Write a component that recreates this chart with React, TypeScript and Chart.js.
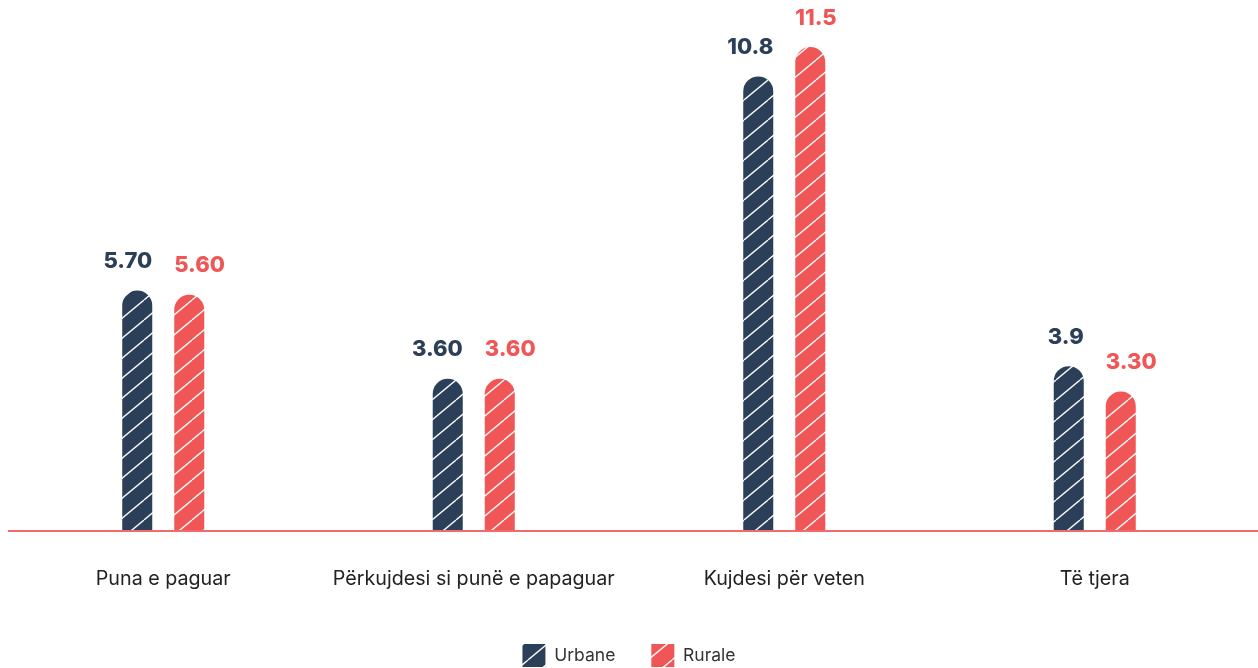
import React, { useEffect, useRef } from "react";
import { Chart, registerables } from "chart.js";

Chart.register(...registerables);

const categories = ["Puna e paguar", "Përkujdesi si punë e papaguar", "Kujdesi për veten", "Të tjera"];
const seriesNames = ["Urbane", "Rurale"];
const urbanValues = [5.7, 3.6, 10.8, 3.9];
const ruralValues = [5.6, 3.6, 11.5, 3.3];
const urbanLabels = ["5.70", "3.60", "10.8", "3.9"];
const ruralLabels = ["5.60", "3.60", "11.5", "3.30"];

const NAVY = "#2c3f59";
const RED = "#f05656";
const FONT = "Inter, 'Noto Sans', sans-serif";

function makePattern(color: string): CanvasPattern | string {
  const c = document.createElement("canvas");
  const w = 24;
  const h = 20;
  c.width = w;
  c.height = h;
  const ctx = c.getContext("2d");
  if (!ctx) return color;
  ctx.fillStyle = color;
  ctx.fillRect(0, 0, w, h);
  ctx.strokeStyle = "rgba(255,255,255,0.95)";
  ctx.lineWidth = 1.4;
  ctx.beginPath();
  for (const dx of [-w, 0, w]) {
    ctx.moveTo(dx, h);
    ctx.lineTo(dx + w, 0);
  }
  ctx.stroke();
  return ctx.createPattern(c, "repeat") || color;
}

export default function App() {
  const ref = useRef<HTMLCanvasElement | null>(null);

  useEffect(() => {
    if (!ref.current) return;
    const labelSets = [urbanLabels, ruralLabels];
    const colors = [NAVY, RED];
    const valueLabels = {
      id: "valueLabels",
      beforeDatasetsDraw(chart: any) {
        const ctx = chart.ctx;
        const y = chart.chartArea.bottom + 1;
        ctx.save();
        ctx.strokeStyle = "#f26a6a";
        ctx.lineWidth = 2;
        ctx.beginPath();
        ctx.moveTo(8, y);
        ctx.lineTo(chart.width, y);
        ctx.stroke();
        ctx.restore();
      },
      afterDatasetsDraw(chart: any) {
        const ctx = chart.ctx;
        ctx.save();
        ctx.font = `800 22px ${FONT}`;
        ctx.textBaseline = "middle";
        chart.data.datasets.forEach((ds: any, di: number) => {
          const meta = chart.getDatasetMeta(di);
          meta.data.forEach((bar: any, i: number) => {
            const half = bar.width / 2;
            ctx.fillStyle = colors[di];
            if (di === 0) {
              ctx.textAlign = "right";
              ctx.fillText(labelSets[di][i], bar.x + half, bar.y - 29);
            } else {
              ctx.textAlign = "left";
              ctx.fillText(labelSets[di][i], bar.x - half, bar.y - 29);
            }
          });
        });
        ctx.restore();
      },
    };

    const chart = new Chart(ref.current, {
      type: "bar",
      data: {
        labels: categories,
        datasets: [
          {
            label: seriesNames[0],
            data: urbanValues,
            backgroundColor: makePattern(NAVY) as any,
            borderWidth: 0,
            borderRadius: 15,
            borderSkipped: "start",
            categoryPercentage: 0.335,
            barPercentage: 0.577,
          },
          {
            label: seriesNames[1],
            data: ruralValues,
            backgroundColor: makePattern(RED) as any,
            borderWidth: 0,
            borderRadius: 15,
            borderSkipped: "start",
            categoryPercentage: 0.335,
            barPercentage: 0.577,
          },
        ],
      },
      options: {
        animation: false,
        responsive: true,
        maintainAspectRatio: false,
        layout: { padding: { left: 8, right: 8, top: 5, bottom: 13 } },
        scales: {
          x: {
            grid: { display: false, drawTicks: false },
            border: { display: false },
            ticks: { color: "#222", font: { family: FONT, size: 19.7 }, padding: 37 },
            afterFit: (axis: any) => {
              axis.height = 78;
            },
          },
          y: {
            display: false,
            min: 0,
            max: 12.5,
          },
        },
        plugins: {
          legend: {
            position: "bottom",
            labels: {
              boxWidth: 23,
              boxHeight: 23,
              padding: 36,
              color: "#333",
              font: { family: FONT, size: 17.5 },
            },
          },
          tooltip: { enabled: false },
        },
      },
      plugins: [valueLabels],
    });
    return () => chart.destroy();
  }, []);

  return (
    <div style={{ position: "fixed", left: 0, top: 0, width: 1258, height: 690 }}>
      <canvas ref={ref} />
    </div>
  );
}
